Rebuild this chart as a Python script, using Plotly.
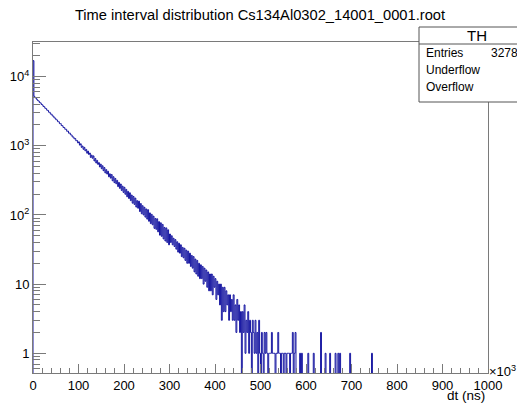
import numpy as np
import plotly.graph_objects as go

# ---- data (counts per bin, bin width 2 x10^3 ns, starting at 0) ----
bin_width = 2
counts_0_100 = [17000, 5180, 4940, 4870, 4650, 4490, 4420, 4210, 4160, 3950,
                3900, 3700, 3660, 3480, 3440, 3270, 3240, 3060, 3040, 2870,
                2860, 2700, 2680, 2530, 2510, 2380, 2360, 2230, 2220, 2090,
                2090, 1960, 1950, 1840, 1830, 1730, 1730, 1620, 1630, 1520,
                1530, 1440, 1430, 1340, 1340, 1260, 1270, 1180, 1190, 1100]
counts_100_200 = [1139, 1022, 1067, 948, 991, 889, 948, 845, 885, 780,
                  837, 749, 786, 678, 733, 660, 713, 603, 655, 563,
                  614, 538, 570, 494, 543, 466, 514, 436, 484, 405,
                  452, 390, 428, 356, 393, 340, 384, 312, 357, 293,
                  337, 282, 316, 257, 295, 242, 280, 226, 261, 212]
counts_200_300 = [251, 199, 234, 183, 219, 173, 209, 161, 194, 148,
                  185, 142, 175, 130, 161, 125, 158, 112, 146, 104,
                  136, 100, 129, 93, 122, 87, 119, 81, 107, 75,
                  102, 72, 96, 64, 89, 62, 88, 57, 80, 51,
                  77, 49, 73, 45, 66, 42, 65, 40, 61, 37]
counts_300_400 = [53, 40, 50, 37, 46, 35, 44, 32, 41, 29,
                  39, 28, 37, 25, 34, 24, 33, 22, 31, 20,
                  30, 20, 28, 18, 26, 17, 25, 15, 23, 14,
                  22, 13, 20, 12, 19, 12, 18, 10, 17, 11,
                  16, 9, 15, 8, 14, 8, 14, 7, 13, 9]
counts_400_500 = [12, 6, 11, 7, 10, 5, 10, 3, 9, 4,
                  9, 4, 8, 5, 7, 3, 7, 4, 6, 3,
                  7, 3, 5, 2, 6, 3, 5, 2, 4, 0,
                  4, 2, 5, 1, 3, 2, 4, 1, 3, 2,
                  0, 3, 2, 1, 3, 1, 2, 0, 3, 1]
counts_500_600 = [0, 2, 1, 0, 2, 1, 2, 1, 0, 1,
                  1, 1, 2, 1, 1, 1, 0, 1, 1, 2,
                  1, 1, 0, 1, 1, 0, 1, 1, 0, 1,
                  1, 1, 0, 1, 1, 2, 0, 1, 2, 0,
                  0, 0, 0, 1, 0, 1, 0, 0, 0, 0]
counts_600_760 = [0, 0, 1, 0, 0, 0, 0, 0, 1, 0,
                  0, 0, 0, 0, 0, 0, 2, 0, 0, 0,
                  0, 1, 0, 0, 0, 0, 1, 0, 0, 0,
                  0, 0, 1, 0, 0, 1, 0, 1, 0, 0,
                  0, 0, 0, 0, 0, 0, 0, 0, 1, 0,
                  0, 0, 0, 0, 0, 0, 0, 0, 0, 0,
                  0, 0, 0, 0, 0, 0, 0, 0, 0, 0,
                  0, 0, 1, 0, 0, 0, 0, 0, 0, 0]

x_ticks = [0, 100, 200, 300, 400, 500, 600, 700, 800, 900, 1000]
y_ticks = [1, 10, 100, 1000, 10000]
y_ticktext = ["1", "10", "10<sup>2</sup>", "10<sup>3</sup>", "10<sup>4</sup>"]
title_text = "Time interval distribution Cs134Al0302_14001_0001.root"
stats_name = "TH"
stats_labels = ["Entries", "Underflow", "Overflow"]
stats_values = ["32780", "", ""]

counts = (counts_0_100 + counts_100_200 + counts_200_300 + counts_300_400
          + counts_400_500 + counts_500_600 + counts_600_760)
counts = np.array(counts, dtype=float)
edges = np.arange(len(counts) + 1) * bin_width

floor = 0.05  # empty bins drawn down to (below) the frame bottom, as ROOT does
yvals = np.where(counts > 0, counts, floor)
xs = np.concatenate([[edges[0]], edges])
ys = np.concatenate([[floor], yvals, [floor]])

line_col = "#000099"
frame_col = "#7a7a7a"
font_fam = "Liberation Sans, Arial, Helvetica, sans-serif"

fig = go.Figure()
fig.add_trace(go.Scatter(x=xs, y=ys, mode="lines", line=dict(color=line_col, width=0.9, shape="hv"),
                         hoverinfo="skip", showlegend=False))

minor_y = []
for d in [0.1, 1, 10, 100, 1000, 10000]:
    for m in range(2, 10):
        minor_y.append(m * d)

fig.update_layout(
    width=517, height=403,
    margin=dict(l=33, r=29, t=42, b=30, autoexpand=False),
    paper_bgcolor="white", plot_bgcolor="white",
    font=dict(family=font_fam, size=13, color="black"),
    showlegend=False,
    title=dict(text=title_text, x=260 / 517, xref="container", xanchor="center",
               y=1 - 15 / 403, yref="container", yanchor="middle",
               font=dict(family=font_fam, size=14.7, color="black")),
    xaxis=dict(range=[0, 1000], showgrid=False, zeroline=False, showline=True, automargin=False,
               linecolor=frame_col, linewidth=1, mirror=True,
               ticks="inside", tickvals=x_ticks, ticklen=9, tickcolor=frame_col,
               minor=dict(ticks="inside", dtick=20, tick0=0, ticklen=5, tickcolor=frame_col, showgrid=False),
               tickfont=dict(size=13, family=font_fam)),
    yaxis=dict(type="log", range=[-0.285, 4.5], showgrid=False, zeroline=False, showline=True, automargin=False,
               linecolor=frame_col, linewidth=1, mirror=True,
               ticks="inside", tickvals=y_ticks, ticktext=y_ticktext, ticklen=13, tickcolor=frame_col,
               minor=dict(ticks="inside", tickmode="array", tickvals=minor_y, ticklen=7,
                          tickcolor=frame_col, showgrid=False),
               tickfont=dict(size=13, family=font_fam)),
)

# x-axis title and exponent label (ROOT style)
fig.add_annotation(text="dt (ns)", xref="paper", yref="paper", x=(487 - 33) / 455, y=(373 - 395) / 331,
                   xanchor="right", yanchor="middle", showarrow=False, font=dict(size=13.5, family=font_fam))
fig.add_annotation(text="\u00d710<sup>3</sup>", xref="paper", yref="paper", x=(487 - 33) / 455,
                   y=(373 - 371) / 331, xanchor="left", yanchor="middle", showarrow=False,
                   font=dict(size=13, family=font_fam))

# stats box
def px_x(p):
    return (p - 33) / 455

def px_y(p):
    return (373 - p) / 331

fig.add_shape(type="rect", xref="paper", yref="paper", x0=px_x(419), x1=px_x(540), y0=px_y(102), y1=px_y(27),
              line=dict(color="#555555", width=1), fillcolor="white", layer="above")
fig.add_shape(type="line", xref="paper", yref="paper", x0=px_x(419), x1=px_x(540), y0=px_y(44), y1=px_y(44),
              line=dict(color="#555555", width=1), layer="above")
fig.add_annotation(text=stats_name, xref="paper", yref="paper", x=px_x(477), y=px_y(35.5),
                   xanchor="center", yanchor="middle", showarrow=False, font=dict(size=15, family=font_fam))
row_y = [53, 70, 87]
for lab, val, ry in zip(stats_labels, stats_values, row_y):
    fig.add_annotation(text=lab, xref="paper", yref="paper", x=px_x(424), y=px_y(ry),
                       xanchor="left", yanchor="middle", showarrow=False, font=dict(size=12, family=font_fam))
    if val:
        fig.add_annotation(text=val, xref="paper", yref="paper", x=px_x(489), y=px_y(ry),
                           xanchor="left", yanchor="middle", showarrow=False, font=dict(size=12, family=font_fam))

fig.write_html("out.html", config={"displayModeBar": False},
               post_script="document.body.style.margin='0px';document.body.style.overflow='hidden';")
